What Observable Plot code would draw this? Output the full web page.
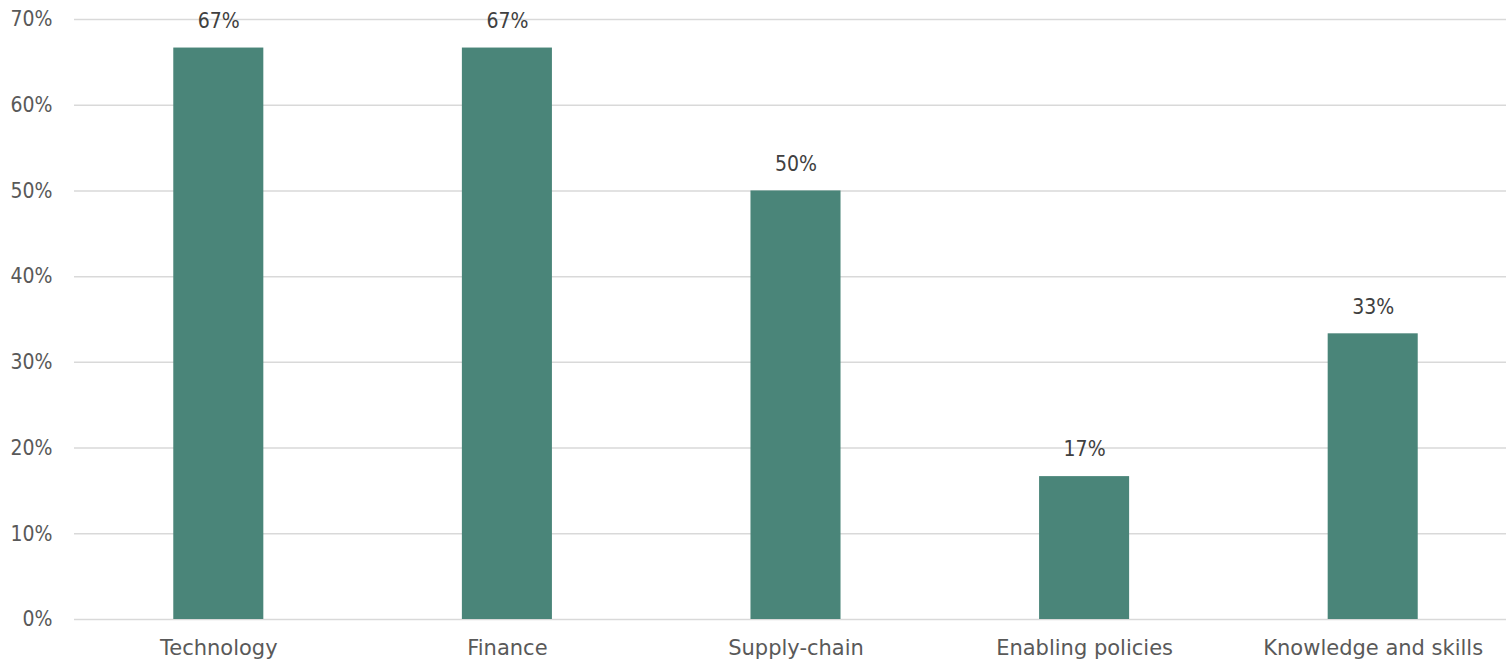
<!DOCTYPE html>
<html>
<head>
<meta charset="utf-8">
<script src="https://cdn.jsdelivr.net/npm/d3@7"></script>
<script src="https://cdn.jsdelivr.net/npm/@observablehq/plot@0.6"></script>
<style>
  html, body { margin: 0; padding: 0; background: #fff; }
  svg { display: block; overflow: hidden; }
</style>
</head>
<body>
<div id="chart"></div>
<script>
const categories = ["Technology", "Finance", "Supply-chain", "Enabling policies", "Knowledge and skills"];
const values = [0.6667, 0.6667, 0.5, 0.1667, 0.3333];
const yTicks = [0, 0.1, 0.2, 0.3, 0.4, 0.5, 0.6, 0.7];

const data = categories.map((c, i) => ({category: c, value: values[i]}));
const pct = d3.format(".0%");
const numFont = "'DejaVu Sans Condensed', 'DejaVu Sans', sans-serif";
const labelFont = "'DejaVu Sans', sans-serif";

const chart = Plot.plot({
  width: 1506,
  height: 662,
  marginLeft: 74,
  marginRight: -11,
  marginTop: 19,
  marginBottom: 43,
  style: {fontFamily: numFont, fontSize: "21px", color: "#595959", background: "#fff"},
  x: {domain: categories, paddingInner: 0.688, paddingOuter: 0.344, round: false, label: null},
  y: {domain: [0, 0.7], label: null},
  marks: [
    Plot.ruleY(yTicks, {stroke: "#d9d9d9", strokeWidth: 1.5, strokeOpacity: 1}),
    Plot.barY(data, {x: "category", y: "value", fill: "#4a8579"}),
    Plot.text(data, {x: "category", y: "value", text: d => pct(d.value), dy: -27, fill: "#404040", fontSize: 21, fontFamily: numFont}),
    Plot.axisY({ticks: yTicks, tickFormat: pct, tickSize: 0, tickPadding: 22, fill: "#595959", fontSize: 21, fontFamily: numFont}),
    Plot.axisX({tickSize: 0, tickPadding: 21, fill: "#595959", fontSize: 21, fontFamily: labelFont})
  ]
});
document.getElementById("chart").appendChild(chart);
</script>
</body>
</html>
